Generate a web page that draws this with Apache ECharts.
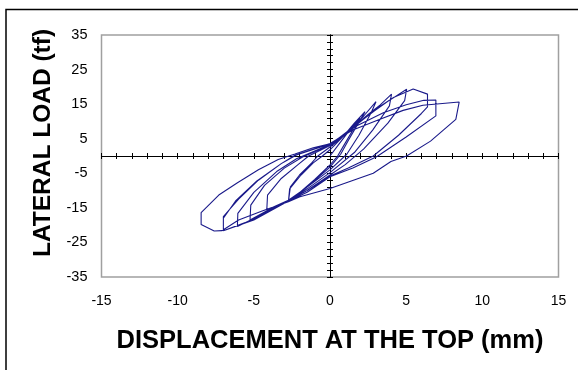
<!DOCTYPE html>
<html>
<head>
<meta charset="utf-8">
<script src="https://cdn.jsdelivr.net/npm/echarts@6/dist/echarts.min.js"></script>
<style>
html,body{margin:0;padding:0;background:#fff;}
#c{width:578px;height:370px;}
</style>
</head>
<body>
<div id="c"></div>
<script>
// Tick settings (axis labels)
var xTickLabels = [-15, -10, -5, 0, 5, 10, 15];
var yTickLabels = [-35, -25, -15, -5, 5, 15, 25, 35];
var xTitle = 'DISPLACEMENT AT THE TOP (mm)';
var yTitle = 'LATERAL LOAD (tf)';

// Hysteresis path (in test order)
var displacement = [
  0, 0.6, 1.2, 1.97, 1.5, 0.9, 0.5, 0, -1, -2, -2.73,
  -2.65, -1.9, -1.1, -0.5, 0,
  0.9, 1.6, 2.3, 1.9, 1.2, 0.7, 0, -1.3, -2.73,
  -2.6, -2.0, -1.2, -0.8, 0,
  1.1, 2.2, 3.02, 2.7, 1.9, 1.1, 0, -1.5, -2.73, -3.5, -4.15,
  -4.1, -3.2, -2.1, -1.4, 0,
  1.3, 2.5, 3.3, 4.04, 3.9, 2.8, 1.6, 0, -1.5, -2.73, -4.2, -5.25,
  -5.2, -4.3, -3, -1.8, 0,
  1.5, 2.9, 3.8, 5.03, 4.9, 3.8, 2.2, 1, 0, -1.5, -2.73, -4.5, -6.08,
  -6.05, -5, -3.5, -2.2, 0,
  1.6, 3.0, 4.2, 5.46, 6.4, 6.4, 6.0, 4.5, 2.84, 1.2, 0, -1.5, -2.73, -5, -7.0,
  -7.0, -6.2, -4.8, -3.2, -2.2, 0,
  1.8, 3.5, 5.0, 6.16, 6.95, 6.95, 5, 3.06, 1.5, 0, -1.5, -2.73, -5, -7.0,
  -7.0, -6.0, -4.7, -3.2, -2.3, 0,
  1.5, 3.28, 4.8, 6.1, 8.48, 8.26, 6.6, 5.03, 4.0, 2.84, 0, -1.97, -2.73, -4.5, -6, -7.1, -7.6, -8.46,
  -8.46, -7.3, -6.1, -4.7, -3.4, -2.3, -1.1, 0
];
var lateralLoad = [
  0, 3.5, 7, 11.1, 7.5, 3, 0, -2.6, -6.8, -10.6, -13.2,
  -9.5, -5.5, -2, 0, 1.8,
  5.8, 9.5, 12.8, 9.8, 4.5, 0.5, -3.2, -8.2, -13.2,
  -8.9, -5.5, -2, 0, 2.6,
  6.5, 11.5, 15.7, 12.5, 6, 0.5, -4, -9, -12.8, -14.3, -15.6,
  -11.3, -6.5, -2.5, 0, 3,
  7.5, 12, 14.8, 17.9, 14.5, 7.5, 1, -4.8, -9.5, -12.8, -16, -18.5,
  -14.2, -8.5, -3.5, -0.3, 3.2,
  8.3, 13, 15.8, 19.3, 16, 9.5, 2, -2.5, -5.5, -10, -12.8, -17, -20.4,
  -16.6, -10.5, -4.5, -0.8, 3.3,
  8.5, 13.5, 17, 19.4, 17.9, 14.2, 12.3, 6, 0, -3.5, -5.8, -10, -12.9, -18.3, -21.6,
  -18.0, -13, -7.2, -2.2, 0.3, 3.5,
  8.8, 12.5, 14.8, 16.1, 16.2, 11.6, 5.5, -0.2, -3.5, -6, -10.5, -13, -18.5, -21.6,
  -17.5, -12.5, -7, -2.2, 0.2, 3.6,
  7.5, 10.6, 13.2, 14.7, 15.6, 10.6, 4.3, 0, -1.6, -5, -9.4, -11.8, -13.2, -16, -18.5, -21.6, -21.7, -19.8,
  -16.4, -11.3, -7.8, -4, -1, 0.6, 2.4, 3.5
];

var pts = displacement.map(function (d, i) { return [d, lateralLoad[i]]; });

var xMin = xTickLabels[0], xMax = xTickLabels[xTickLabels.length - 1];
var yMin = yTickLabels[0], yMax = yTickLabels[yTickLabels.length - 1];
var FONT = 'Liberation Sans, Arial, Helvetica, sans-serif';

function crossX(pos) {
  return {
    type: 'value', min: xMin, max: xMax, interval: 1, position: pos,
    axisLine: { show: true, onZero: true, onZeroAxisIndex: 0, lineStyle: { color: '#000', width: 1 } },
    axisTick: { show: true, length: 3, lineStyle: { color: '#000', width: 1 } },
    axisLabel: { show: false }, splitLine: { show: false }
  };
}
function crossY(pos) {
  return {
    type: 'value', min: yMin, max: yMax, interval: 2, position: pos,
    axisLine: { show: true, onZero: true, onZeroAxisIndex: 0, lineStyle: { color: '#000', width: 1 } },
    axisTick: { show: true, length: 3, lineStyle: { color: '#000', width: 1 } },
    axisLabel: { show: false }, splitLine: { show: false }
  };
}

var chart = echarts.init(document.getElementById('c'), null, { renderer: 'canvas' });
chart.setOption({
  animation: false,
  backgroundColor: '#fff',
  graphic: [{
    type: 'rect', shape: { x: 6, y: 9.5, width: 700, height: 500 },
    style: { fill: 'none', stroke: '#000', lineWidth: 1.5 }, silent: true, z: 100
  }],
  grid: {
    left: 101.5, top: 35, right: 19.5, bottom: 93,
    show: true, borderColor: '#a0a0a0', borderWidth: 1.5, backgroundColor: 'transparent'
  },
  xAxis: [
    {
      type: 'value', min: xMin, max: xMax, interval: 5, position: 'bottom',
      axisLine: { show: false, onZero: false }, axisTick: { show: false }, splitLine: { show: false },
      axisLabel: { color: '#000', fontSize: 14, fontFamily: FONT, margin: 17 },
      name: xTitle, nameLocation: 'middle', nameGap: 51,
      nameTextStyle: { color: '#000', fontSize: 25.5, fontWeight: 'bold', fontFamily: FONT }
    },
    crossX('bottom'),
    crossX('top')
  ],
  yAxis: [
    {
      type: 'value', min: yMin, max: yMax, interval: 10, position: 'left',
      axisLine: { show: false, onZero: false }, axisTick: { show: false }, splitLine: { show: false },
      axisLabel: { color: '#000', fontSize: 14.5, fontFamily: FONT, margin: 14 },
      name: yTitle, nameLocation: 'middle', nameGap: 46, nameRotate: 90,
      nameTextStyle: { color: '#000', fontSize: 24.5, fontWeight: 'bold', fontFamily: FONT, padding: [0, 0, 0, 26] }
    },
    crossY('left'),
    crossY('right')
  ],
  series: [{
    type: 'line', xAxisIndex: 0, yAxisIndex: 0,
    data: pts, showSymbol: false, symbol: 'none', smooth: false,
    lineStyle: { color: '#1a1a8a', width: 1.1 }, z: 5
  }]
});
</script>
</body>
</html>
